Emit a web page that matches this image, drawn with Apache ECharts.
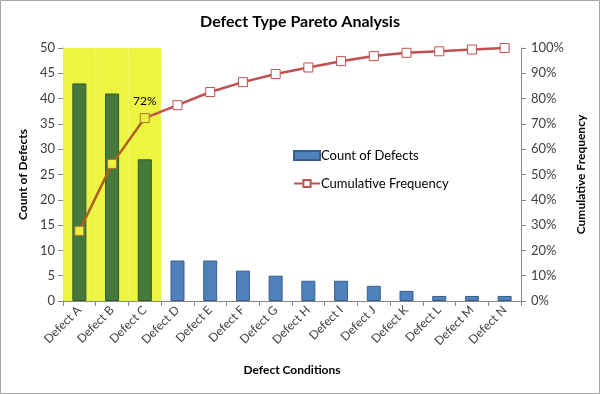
<!DOCTYPE html>
<html><head><meta charset="utf-8">
<script src="https://cdn.jsdelivr.net/npm/echarts@6/dist/echarts.min.js"></script>
<style>html,body{margin:0;padding:0;background:#fff}#c{width:600px;height:394px}</style>
</head><body><div id="c"></div>
<script>
const categories = ['Defect A','Defect B','Defect C','Defect D','Defect E','Defect F','Defect G','Defect H','Defect I','Defect J','Defect K','Defect L','Defect M','Defect N'];
const counts = [43, 41, 28, 8, 8, 6, 5, 4, 4, 3, 2, 1, 1, 1];
const cumulative = [27.7, 54.2, 72.3, 77.4, 82.6, 86.5, 89.7, 92.3, 94.8, 96.8, 98.1, 98.7, 99.4, 100];
const highlighted = [true, true, true, false, false, false, false, false, false, false, false, false, false, false];
const leftTicks = {min: 0, max: 50, interval: 5};
const rightTicks = {min: 0, max: 100, interval: 10};

const FONT = 'Lato';
const GREEN = '#467a3c', BLUE = '#4f81bd', RED = '#c0504d', BROWN = '#b0601e', YELLOW = '#ebf542';
const lastHi = highlighted.lastIndexOf(true);

const chart = echarts.init(document.getElementById('c'));
chart.setOption({
  animation: false,
  textStyle: {fontFamily: FONT},
  title: {text: 'Defect Type Pareto Analysis', left: 'center', top: 9,
    textStyle: {fontFamily: FONT, fontSize: 16, fontWeight: 'bold', color: '#000'}},
  graphic: [{type: 'rect', shape: {x: 0.5, y: 0.5, width: 599, height: 393}, style: {fill: 'none', stroke: '#a6a6a6', lineWidth: 1}, z: -10}],
  legend: {
    orient: 'vertical', left: 288, top: 144, itemGap: 15,
    data: [{name: 'Count of Defects', icon: 'rect'}, {name: 'Cumulative Frequency'}],
    itemWidth: 26, itemHeight: 9,
    textStyle: {fontFamily: FONT, fontSize: 13, color: '#000', padding: [0, 0, 0, -4]}
  },
  grid: {left: 63, right: 79, top: 48, bottom: 93},
  xAxis: [{
    type: 'category', data: categories,
    name: 'Defect Conditions', nameLocation: 'middle', nameGap: 63,
    nameTextStyle: {fontFamily: FONT, fontSize: 12, fontWeight: 'bold', color: '#000'},
    axisLine: {lineStyle: {color: '#868686'}},
    axisTick: {show: true, alignWithLabel: false, length: 5, lineStyle: {color: '#868686'}},
    axisLabel: {rotate: 45, fontSize: 12, color: '#404040', margin: 7, interval: 0}
  }, {
    type: 'category', data: categories, show: false
  }],
  yAxis: [{
    type: 'value', min: leftTicks.min, max: leftTicks.max, interval: leftTicks.interval,
    name: 'Count of Defects', nameLocation: 'middle', nameGap: 31, nameRotate: 90,
    nameTextStyle: {fontFamily: FONT, fontSize: 12, fontWeight: 'bold', color: '#000'},
    splitLine: {show: false},
    axisLine: {show: true, lineStyle: {color: '#868686'}},
    axisTick: {show: true, length: 5, lineStyle: {color: '#868686'}},
    axisLabel: {fontSize: 13, color: '#404040', margin: 8}
  }, {
    type: 'value', min: rightTicks.min, max: rightTicks.max, interval: rightTicks.interval,
    position: 'right',
    name: 'Cumulative Frequency', nameLocation: 'middle', nameGap: 50, nameRotate: 90,
    nameTextStyle: {fontFamily: FONT, fontSize: 12, fontWeight: 'bold', color: '#000'},
    splitLine: {show: false},
    axisLine: {show: true, lineStyle: {color: '#868686'}},
    axisTick: {show: true, length: 5, lineStyle: {color: '#868686'}},
    axisLabel: {fontSize: 13, color: '#404040', margin: 10, formatter: '{value}%'}
  }],
  series: [{
    name: 'highlight', type: 'bar', xAxisIndex: 1, yAxisIndex: 0,
    barWidth: '100%', barCategoryGap: '0%', silent: true, z: 0,
    itemStyle: {color: YELLOW, borderColor: YELLOW, borderWidth: 1},
    data: highlighted.map(h => h ? leftTicks.max : null)
  }, {
    name: 'Count of Defects', type: 'bar', yAxisIndex: 0, barWidth: 14, z: 2,
    itemStyle: {color: BLUE, borderColor: '#385d8a', borderWidth: 1},
    data: counts.map((v, i) => highlighted[i]
      ? {value: v, itemStyle: {color: GREEN, borderColor: '#2e5a28'}}
      : v)
  }, {
    name: 'Cumulative Frequency', type: 'line', yAxisIndex: 1, z: 3,
    symbol: 'rect', symbolSize: 9,
    lineStyle: {color: RED, width: 2.5},
    itemStyle: {color: '#ffffff', borderColor: RED, borderWidth: 1},
    data: cumulative.map((v, i) => i < lastHi ? null : (i === lastHi ? {value: v, symbol: 'none'} : v))
  }, {
    name: 'hiLine', type: 'line', yAxisIndex: 1, z: 4,
    symbol: 'rect', symbolSize: 9,
    lineStyle: {color: BROWN, width: 2.5},
    itemStyle: {color: '#f0f040', borderColor: '#a8782a', borderWidth: 1},
    data: cumulative.map((v, i) => {
      if (i > lastHi) return null;
      if (i === lastHi) return {value: v, label: {show: true, position: 'top', distance: 6, formatter: Math.round(v) + '%', fontFamily: FONT, fontSize: 12, color: '#000'}};
      return v;
    })
  }]
});
</script></body></html>
